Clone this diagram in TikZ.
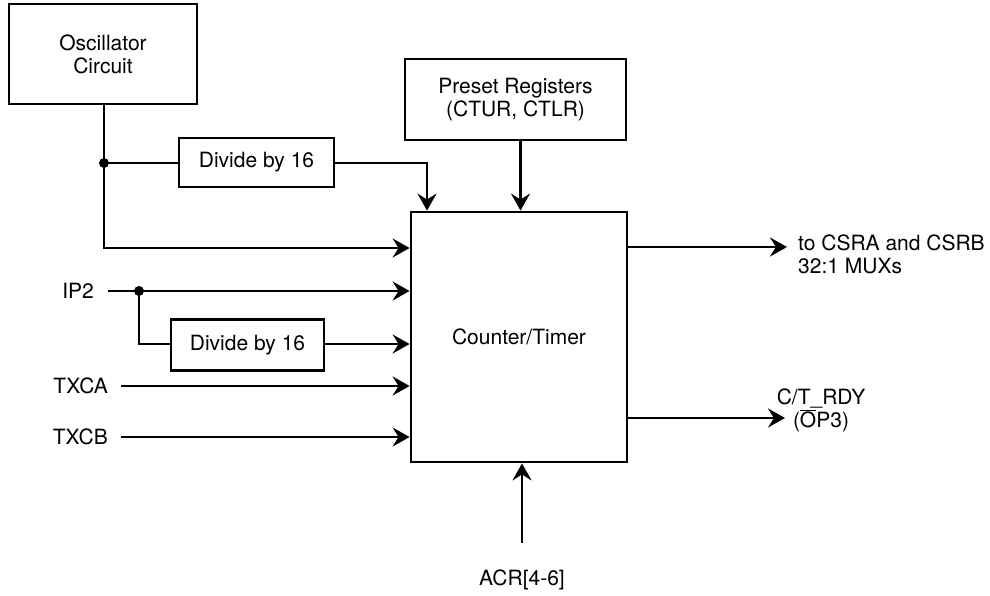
\documentclass[tikz,border=0pt]{standalone}
\usepackage{fontspec}
\setmainfont{TeX Gyre Heros}
\usetikzlibrary{arrows.meta,calc}
\begin{document}
\begin{tikzpicture}[x=1pt,y=-1pt,
  every node/.style={font=\fontsize{21}{23}\selectfont},
  wire/.style={line width=2.6pt},
  arr/.style={wire,-{Stealth[length=17pt,width=19pt,inset=6pt]}},
  blk/.style={draw,line width=2.8pt,minimum width=#1,inner sep=0pt,align=center},
  lbl/.style={inner sep=0pt},
  jdot/.style={circle,fill,inner sep=0pt,minimum size=10pt}]
\useasboundingbox (0,0) rectangle (990,595);
% blocks
\node[blk=188pt,minimum height=100pt] (osc) at (103,54) {Oscillator\\Circuit};
\node[blk=155pt,minimum height=49pt] (div1) at (256.5,162.5) {Divide by 16};
\node[blk=153pt,minimum height=51pt] (div2) at (247.5,345) {Divide by 16};
\node[blk=221pt,minimum height=81pt] (pre) at (515.5,99.5) {Preset Registers\\(CTUR, CTLR)};
\node[blk=216pt,minimum height=250pt] (ct) at (519,337) {Counter/Timer};
% labels
\node[lbl,anchor=east] (ip2) at (94,291) {IP2};
\node[lbl,anchor=east] (txca) at (108,386) {TXCA};
\node[lbl,anchor=east] (txcb) at (108,437) {TXCB};
\node[lbl,anchor=north west,align=left] (csra) at (798,235) {to CSRA and CSRB\\32:1 MUXs};
\node[lbl,align=center] (rdy) at (821,410) {C/T\_RDY\\($\overline{\mbox{O}}$P3)};
\node[lbl] (acr) at (522,580) {ACR[4-6]};
% junctions
\node[jdot] (j1) at (104,163) {};
\node[jdot] (j2) at (139,291) {};
\coordinate (d1turn) at (427,163);
\coordinate (ip2s) at (108,291);
\coordinate (txcas) at (121,386);
\coordinate (txcbs) at (121,437);
\coordinate (acrs) at (522,543);
\coordinate (outa) at (787,247);
\coordinate (outb) at (785,418);
% oscillator paths
\draw[wire] (osc.south -| j1) -- (j1.center);
\draw[wire] (j1.center) -- (div1.west |- j1);
\draw[arr] (j1.center) -- (104,248) -- (ct.west |- 0,248);
\draw[arr] (div1.east |- d1turn) -- (d1turn) -- (d1turn |- ct.north);
\draw[arr] ([xshift=5pt]pre.south) -- ([xshift=5pt]pre.south |- ct.north);
% inputs
\draw[arr] (ip2s) -- (ip2s -| ct.west);
\draw[wire] (j2.center) -- (139,344) -- (div2.west |- 0,344);
\draw[arr] (div2.east |- 0,344) -- (ct.west |- 0,344);
\draw[arr] (txcas) -- (txcas -| ct.west);
\draw[arr] (txcbs) -- (txcbs -| ct.west);
\draw[arr] (acrs) -- (acrs |- ct.south);
% outputs
\draw[arr] (outa -| ct.east) -- (outa);
\draw[arr] (outb -| ct.east) -- (outb);
\end{tikzpicture}
\end{document}
